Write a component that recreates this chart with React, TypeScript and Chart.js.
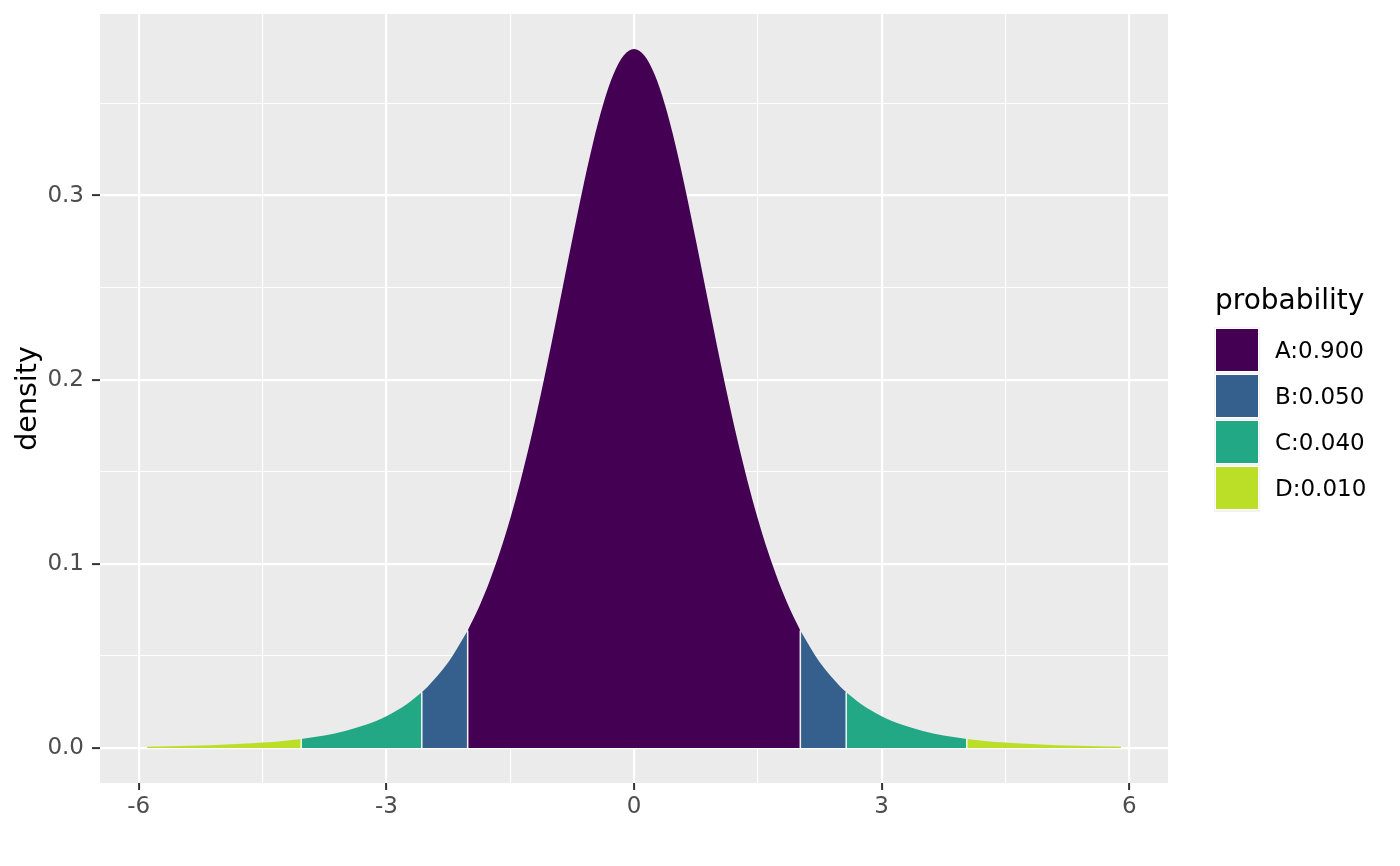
import React, { useEffect, useRef } from "react";
import { Chart, registerables } from "chart.js";

Chart.register(...registerables);

// density curve sample points
const xValues = [
  -5.9, -5.75, -5.5, -5.25, -5.0, -4.75, -4.5, -4.25, -4.032, -3.75, -3.5, -3.25, -3.0, -2.75, -2.571, -2.5, -2.25, -2.015,
  -1.875, -1.75, -1.625, -1.5, -1.375, -1.25, -1.125, -1.0, -0.875, -0.75, -0.625, -0.5, -0.375, -0.25, -0.125, 0,
  0.125, 0.25, 0.375, 0.5, 0.625, 0.75, 0.875, 1.0, 1.125, 1.25, 1.375, 1.5, 1.625, 1.75, 1.875,
  2.015, 2.25, 2.5, 2.571, 2.75, 3.0, 3.25, 3.5, 3.75, 4.032, 4.25, 4.5, 4.75, 5.0, 5.25, 5.5, 5.75, 5.9,
];
const density = [
  0.00075, 0.00086, 0.00108, 0.00137, 0.00176, 0.00227, 0.00295, 0.00387, 0.00494, 0.00685, 0.00924, 0.01259, 0.01729, 0.02393, 0.03032, 0.03333, 0.04657, 0.0638,
  0.07684, 0.09054, 0.10638, 0.12451, 0.14503, 0.16789, 0.19291, 0.21968, 0.24757, 0.27569, 0.30291, 0.32791, 0.3493, 0.36571, 0.37606, 0.3796,
  0.37606, 0.36571, 0.3493, 0.32791, 0.30291, 0.27569, 0.24757, 0.21968, 0.19291, 0.16789, 0.14503, 0.12451, 0.10638, 0.09054, 0.07684,
  0.0638, 0.04657, 0.03333, 0.03032, 0.02393, 0.01729, 0.01259, 0.00924, 0.00685, 0.00494, 0.00387, 0.00295, 0.00227, 0.00176, 0.00137, 0.00108, 0.00086, 0.00075,
];
// region boundaries and which probability group each region belongs to
const boundaries = [-5.9, -4.032, -2.571, -2.015, 2.015, 2.571, 4.032, 5.9];
const regionGroup = [3, 2, 1, 0, 1, 2, 3];

const groupLabels = ["A:0.900", "B:0.050", "C:0.040", "D:0.010"];
const groupColors = ["#440154", "#35608D", "#22A884", "#BBDF27"];
const legendTitle = "probability";
const yTitle = "density";

const xTickValues = [-6, -4.5, -3, -1.5, 0, 1.5, 3, 4.5, 6];
const xMajorTicks = [-6, -3, 0, 3, 6];
const xTickLabels = ["-6", "-3", "0", "3", "6"];
const yTickValues = [0, 0.05, 0.1, 0.15, 0.2, 0.25, 0.3, 0.35];
const yMajorTicks = [0, 0.1, 0.2, 0.3];
const yTickLabels = ["0.0", "0.1", "0.2", "0.3"];

const FONT = "'DejaVu Sans', sans-serif";

function isMajor(list: number[], v: number) {
  return list.some((m) => Math.abs(m - v) < 1e-9);
}

export default function App() {
  const ref = useRef<HTMLCanvasElement | null>(null);

  useEffect(() => {
    document.body.style.margin = "0";
    if (!ref.current) return;

    const datasets = regionGroup.map((g, i) => {
      const lo = boundaries[i];
      const hi = boundaries[i + 1];
      const data = xValues
        .map((x, k) => ({ x, y: density[k] }))
        .filter((p) => p.x >= lo - 1e-9 && p.x <= hi + 1e-9);
      return {
        label: groupLabels[g],
        data,
        backgroundColor: groupColors[g],
        borderColor: "rgba(0,0,0,0)",
        borderWidth: 0,
        pointRadius: 0,
        fill: "origin",
        cubicInterpolationMode: "monotone" as const,
      };
    });

    const panelBg = {
      id: "panelBg",
      beforeDraw(chart: any) {
        const { ctx, chartArea } = chart;
        ctx.save();
        ctx.fillStyle = "#EBEBEB";
        ctx.fillRect(chartArea.left, chartArea.top, chartArea.right - chartArea.left, chartArea.bottom - chartArea.top);
        ctx.restore();
      },
    };

    const dividers = {
      id: "dividers",
      afterDatasetsDraw(chart: any) {
        const { ctx } = chart;
        const xs = chart.scales.x;
        const ys = chart.scales.y;
        ctx.save();
        ctx.strokeStyle = "rgba(255,255,255,0.85)";
        ctx.lineWidth = 1.6;
        boundaries.slice(1, -1).forEach((b) => {
          const k = xValues.findIndex((x) => Math.abs(x - b) < 1e-9);
          const px = xs.getPixelForValue(b);
          ctx.beginPath();
          ctx.moveTo(px, ys.getPixelForValue(0));
          ctx.lineTo(px, ys.getPixelForValue(density[k]));
          ctx.stroke();
        });
        ctx.restore();
      },
    };

    const chart = new Chart(ref.current, {
      type: "line",
      data: { datasets: datasets as any },
      plugins: [panelBg, dividers],
      options: {
        animation: false,
        responsive: true,
        maintainAspectRatio: false,
        devicePixelRatio: 1,
        layout: { padding: { top: 14, right: 232, left: 0, bottom: 0 } },
        plugins: { legend: { display: false }, tooltip: { enabled: false } },
        elements: { line: { borderWidth: 0 } },
        scales: {
          x: {
            type: "linear",
            min: -6.47,
            max: 6.47,
            afterBuildTicks: (scale: any) => {
              scale.ticks = xTickValues.map((v) => ({ value: v }));
            },
            afterFit: (scale: any) => {
              scale.height = 83;
              scale.paddingLeft = 0;
              scale.paddingRight = 0;
            },
            border: { display: false },
            grid: {
              color: "#FFFFFF",
              lineWidth: (c: any) => (isMajor(xMajorTicks, c.tick.value) ? 2.2 : 1.1),
              tickColor: (c: any) => (isMajor(xMajorTicks, c.tick.value) ? "#333333" : "rgba(0,0,0,0)"),
              tickWidth: 2,
              tickLength: 7,
            },
            ticks: {
              autoSkip: false,
              maxRotation: 0,
              padding: 3,
              color: "#4D4D4D",
              font: { family: FONT, size: 23 },
              callback: (v: any) => {
                const i = xMajorTicks.findIndex((m) => Math.abs(m - Number(v)) < 1e-9);
                return i >= 0 ? xTickLabels[i] : "";
              },
            },
          },
          y: {
            type: "linear",
            min: -0.019,
            max: 0.3986,
            afterBuildTicks: (scale: any) => {
              scale.ticks = yTickValues.map((v) => ({ value: v }));
            },
            afterFit: (scale: any) => {
              scale.width = 100;
              scale.paddingTop = 0;
              scale.paddingBottom = 0;
            },
            border: { display: false },
            grid: {
              color: "#FFFFFF",
              lineWidth: (c: any) => (isMajor(yMajorTicks, c.tick.value) ? 2.2 : 1.1),
              tickColor: (c: any) => (isMajor(yMajorTicks, c.tick.value) ? "#333333" : "rgba(0,0,0,0)"),
              tickWidth: 2,
              tickLength: 8,
            },
            ticks: {
              autoSkip: false,
              padding: 8,
              color: "#4D4D4D",
              font: { family: FONT, size: 23 },
              callback: (v: any) => {
                const i = yMajorTicks.findIndex((m) => Math.abs(m - Number(v)) < 1e-9);
                return i >= 0 ? yTickLabels[i] : "";
              },
            },
            title: {
              display: true,
              text: yTitle,
              color: "#000000",
              font: { family: FONT, size: 28.5 },
              padding: { top: 11, bottom: 0 },
            },
          },
        },
      },
    });
    return () => chart.destroy();
  }, []);

  return (
    <div style={{ position: "fixed", left: 0, top: 0, width: 1400, height: 866, background: "#FFFFFF" }}>
      <canvas ref={ref} />
      <div
        style={{
          position: "absolute",
          left: 1215,
          top: 283,
          fontFamily: FONT,
          fontSize: 28,
          lineHeight: "34px",
          color: "#000",
          whiteSpace: "nowrap",
        }}
      >
        {legendTitle}
      </div>
      <div
        style={{
          position: "absolute",
          left: 1214,
          top: 327,
          width: 46,
          height: 185,
          background: "#F2F2F2",
        }}
      />
      {groupLabels.map((lab, i) => (
        <React.Fragment key={lab}>
          <div
            style={{
              position: "absolute",
              left: 1215,
              top: 328 + i * 46,
              width: 42,
              height: 42,
              background: groupColors[i],
              border: "1px solid #FFFFFF",
            }}
          />
          <div
            style={{
              position: "absolute",
              left: 1275,
              top: 328 + i * 46,
              height: 44,
              lineHeight: "44px",
              fontFamily: FONT,
              fontSize: 23,
              color: "#000",
              whiteSpace: "nowrap",
            }}
          >
            {lab}
          </div>
        </React.Fragment>
      ))}
    </div>
  );
}
